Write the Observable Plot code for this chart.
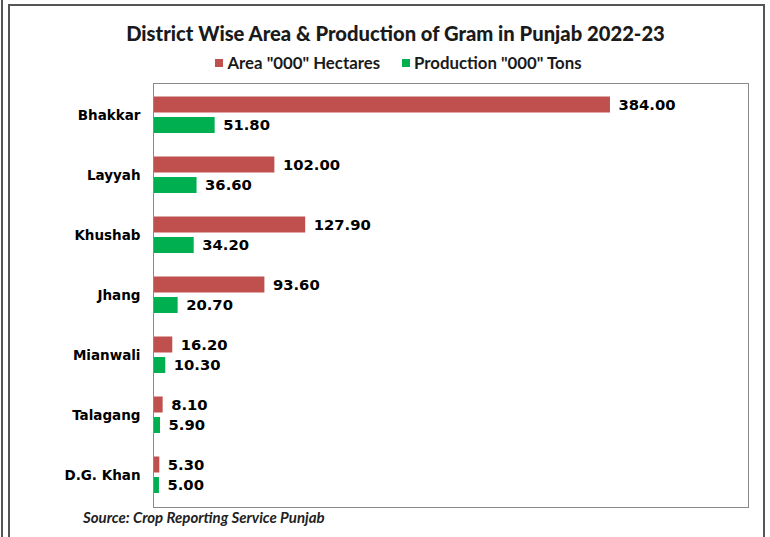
<!DOCTYPE html>
<html>
<head>
<meta charset="utf-8">
<script src="https://cdn.jsdelivr.net/npm/d3@7"></script>
<script src="https://cdn.jsdelivr.net/npm/@observablehq/plot@0.6"></script>
<style>
  html, body { margin: 0; padding: 0; background: #fff; }
  #wrap { position: relative; width: 770px; height: 537px; overflow: hidden; background: #fff; }
  #edge { position: absolute; left: 1px; top: 0; width: 2px; height: 537px; background: #555; }
  #outer { position: absolute; left: 8px; top: 4px; width: 757px; height: 600px; border: 2px solid #555; box-sizing: border-box; }
  #title { position: absolute; left: 0; width: 791px; top: 21px; text-align: center;
           font-family: Lato, sans-serif; font-weight: 900; font-size: 20.2px; color: #1a1a1a; }
  #legend { position: absolute; left: 0; width: 797px; top: 52px; text-align: center;
            font-family: Lato, sans-serif; font-weight: bold; font-size: 16.8px; color: #1a1a1a; }
  #legend span.item { margin: 0 11px; white-space: nowrap; }
  #legend span.sw { display: inline-block; width: 8px; height: 8px; margin-right: 4px; vertical-align: 2px; }
  #source { position: absolute; left: 83px; top: 508px; font-family: Lato, sans-serif; font-weight: bold;
            font-style: italic; font-size: 15px; color: #222; }
  #chart { position: absolute; left: 0; top: 78px; }
</style>
</head>
<body>
<div id="wrap">
  <div id="edge"></div>
  <div id="outer"></div>
  <div id="title">District Wise Area &amp; Production of Gram in Punjab 2022-23</div>
  <div id="legend"></div>
  <div id="chart"></div>
  <div id="source">Source: Crop Reporting Service Punjab</div>
</div>
<script>
const districts = ["Bhakkar", "Layyah", "Khushab", "Jhang", "Mianwali", "Talagang", "D.G. Khan"];
const area = [384.0, 102.0, 127.9, 93.6, 16.2, 8.1, 5.3];
const production = [51.8, 36.6, 34.2, 20.7, 10.3, 5.9, 5.0];
const seriesNames = ['Area "000" Hectares', 'Production "000" Tons'];
const colors = ["#c0504d", "#00b050"];

const areaData = districts.map((d, i) => ({district: d, value: area[i]}));
const prodData = districts.map((d, i) => ({district: d, value: production[i]}));

// legend
const legend = document.getElementById("legend");
seriesNames.forEach((name, i) => {
  const item = document.createElement("span");
  item.className = "item";
  const sw = document.createElement("span");
  sw.className = "sw";
  sw.style.background = colors[i];
  item.appendChild(sw);
  item.appendChild(document.createTextNode(name));
  legend.appendChild(item);
});

const fmt = v => v.toFixed(2);

const chart = Plot.plot({
  width: 770,
  height: 432,
  marginTop: 5,
  marginBottom: 3,
  marginLeft: 153,
  marginRight: 22,
  style: {fontFamily: "DejaVu Sans, Verdana, sans-serif", fontSize: "13.5px", fontWeight: "bold", color: "#000", background: "transparent"},
  x: {domain: [0, 500], axis: null},
  y: {domain: districts, padding: 0, label: null, tickSize: 0, tickPadding: 13},
  marks: [
    Plot.barX(areaData, {x: "value", y: "district", fill: colors[0], insetTop: 11.5, insetBottom: 32.5}),
    Plot.barX(prodData, {x: "value", y: "district", fill: colors[1], insetTop: 32, insetBottom: 12}),
    Plot.text(areaData, {x: "value", y: "district", text: d => fmt(d.value), dx: 8, dy: -10.5, textAnchor: "start", fontSize: 14.8, fontWeight: "bold", fill: "#000"}),
    Plot.text(prodData, {x: "value", y: "district", text: d => fmt(d.value), dx: 8, dy: 10, textAnchor: "start", fontSize: 14.8, fontWeight: "bold", fill: "#000"}),
    Plot.frame({stroke: "#8a8a8a"})
  ]
});
document.getElementById("chart").appendChild(chart);
</script>
</body>
</html>
